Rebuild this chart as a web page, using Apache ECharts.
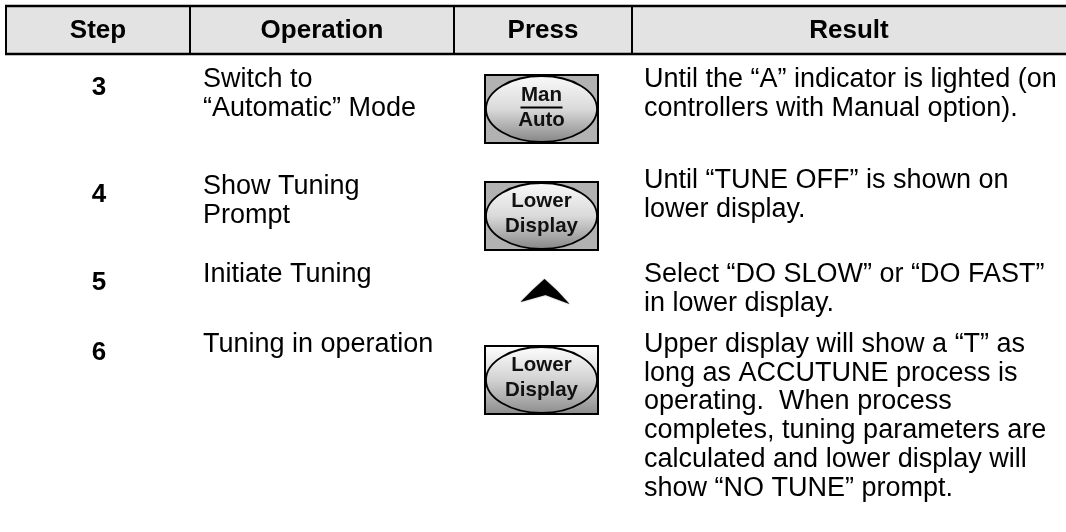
<!DOCTYPE html>
<html><head><meta charset="utf-8">
<script src="https://cdn.jsdelivr.net/npm/echarts@6/dist/echarts.min.js"></script>
<style>html,body{margin:0;padding:0;background:#fff}#c{width:1066px;height:532px}</style>
</head><body><div id="c"></div>
<script>
// ---- content ----
const headers = ['Step', 'Operation', 'Press', 'Result'];
const steps = ['3', '4', '5', '6'];
const operations = [
  'Switch to\n“Automatic” Mode',
  'Show Tuning\nPrompt',
  'Initiate Tuning',
  'Tuning in operation'
];
const pressKeys = [['Man', 'Auto'], ['Lower', 'Display'], [], ['Lower', 'Display']];
const pressKinds = ['flat', 'flat', 'arrow', 'gradient'];
const results = [
  'Until the “A” indicator is lighted (on\ncontrollers with Manual option).',
  'Until “TUNE OFF” is shown on\nlower display.',
  'Select “DO SLOW” or “DO FAST”\nin lower display.',
  'Upper display will show a “T” as\nlong as ACCUTUNE process is\noperating.  When process\ncompletes, tuning parameters are\ncalculated and lower display will\nshow “NO TUNE” prompt.'
];

// ---- layout ----
const FONT = '"Liberation Sans", Arial, sans-serif';
const colEdges = [6, 190, 454, 632, 1066];
const headTop = 6, headBottom = 54;
const opX = 203, resX = 644, stepX = 99, pressX = 541.5;
const opBase = [89, 196, 284, 354];
const resBase = [89, 190, 284, 354];
const stepBase = [98, 205, 293, 363];
const lineH = 28.8;
const btnTop = [75, 182, 0, 346];
const btnW = 113, btnH = 68;
const arrowTop = 279;

const els = [];
function txt(t, x, y, opts) {
  els.push({
    type: 'text', z: 10,
    style: Object.assign({
      text: t, x: x, y: y, fill: '#000',
      font: '27px ' + FONT,
      align: 'left', verticalAlign: 'middle',
      textAlign: 'left', textVerticalAlign: 'middle'
    }, opts || {})
  });
}
function line(x1, y1, x2, y2, w, z) {
  els.push({ type: 'line', z: z || 5, shape: { x1, y1, x2, y2 }, style: { stroke: '#000', lineWidth: w } });
}

// header
els.push({ type: 'rect', z: 1, shape: { x: colEdges[0], y: headTop, width: colEdges[4] - colEdges[0], height: headBottom - headTop }, style: { fill: '#e3e3e3' } });
line(colEdges[0] - 1, headTop, 1066, headTop, 2.5);
line(colEdges[0] - 1, headBottom, 1066, headBottom, 2.5);
for (let i = 0; i < 4; i++) line(colEdges[i], headTop, colEdges[i], headBottom, 2);
headers.forEach((h, i) => {
  const cx = (colEdges[i] + colEdges[i + 1]) / 2;
  txt(h, cx, 31, { font: 'bold 26px ' + FONT, align: 'center', textAlign: 'center' });
});

// body
const capMid = 9.7;
steps.forEach((s, r) => {
  txt(s, stepX, stepBase[r] - capMid, { font: 'bold 26px ' + FONT, align: 'center', textAlign: 'center' });
  operations[r].split('\n').forEach((l, k) => txt(l, opX, opBase[r] + k * lineH - capMid));
  results[r].split('\n').forEach((l, k) => txt(l, resX, resBase[r] + k * lineH - capMid));

  const kind = pressKinds[r];
  if (kind === 'arrow') {
    const a = arrowTop, c = pressX + 3;
    els.push({ type: 'polygon', z: 6, shape: { points: [
      [c, a], [c + 13, a + 12], [c + 25, a + 25], [c + 1, a + 16], [c - 24, a + 23], [c - 12, a + 11]
    ] }, style: { fill: '#000', shadowBlur: 1.5, shadowColor: 'rgba(0,0,0,0.6)' } });
    return;
  }
  const x0 = pressX - btnW / 2, y0 = btnTop[r];
  const grad = (c0, c1, c2) => ({ type: 'linear', x: 0, y: 0, x2: 0, y2: 1,
    colorStops: [{ offset: 0, color: c0 }, { offset: 0.5, color: c1 }, { offset: 1, color: c2 }] });
  els.push({ type: 'rect', z: 6, shape: { x: x0, y: y0, width: btnW, height: btnH },
    style: { fill: kind === 'flat' ? '#b2b2b2' : grad('#ffffff', '#d2d2d2', '#8a8a8a'), stroke: '#000', lineWidth: 2 } });
  els.push({ type: 'ellipse', z: 7, shape: { cx: pressX, cy: y0 + btnH / 2, rx: btnW / 2 - 1, ry: btnH / 2 - 1 },
    style: { fill: kind === 'flat' ? grad('#fafafa', '#dadada', '#858585') : 'rgba(0,0,0,0)', stroke: '#000', lineWidth: 1.8 } });
  const keys = pressKeys[r];
  const isMan = keys[0] === 'Man';
  const b1 = y0 + (isMan ? 28 : 27), b2 = y0 + (isMan ? 53 : 52);
  txt(keys[0], pressX, b1 - 7.4, { font: 'bold 20.5px ' + FONT, align: 'center', textAlign: 'center', fill: '#111' });
  txt(keys[1], pressX, b2 - 7.4, { font: 'bold 20.5px ' + FONT, align: 'center', textAlign: 'center', fill: '#111' });
  if (isMan) line(pressX - 21, b1 + 4.5, pressX + 21, b1 + 4.5, 2.2, 12);
});

const chart = echarts.init(document.getElementById('c'), null, { renderer: 'canvas' });
chart.setOption({ backgroundColor: '#ffffff', animation: false, graphic: { elements: els } });
</script>
</body></html>
